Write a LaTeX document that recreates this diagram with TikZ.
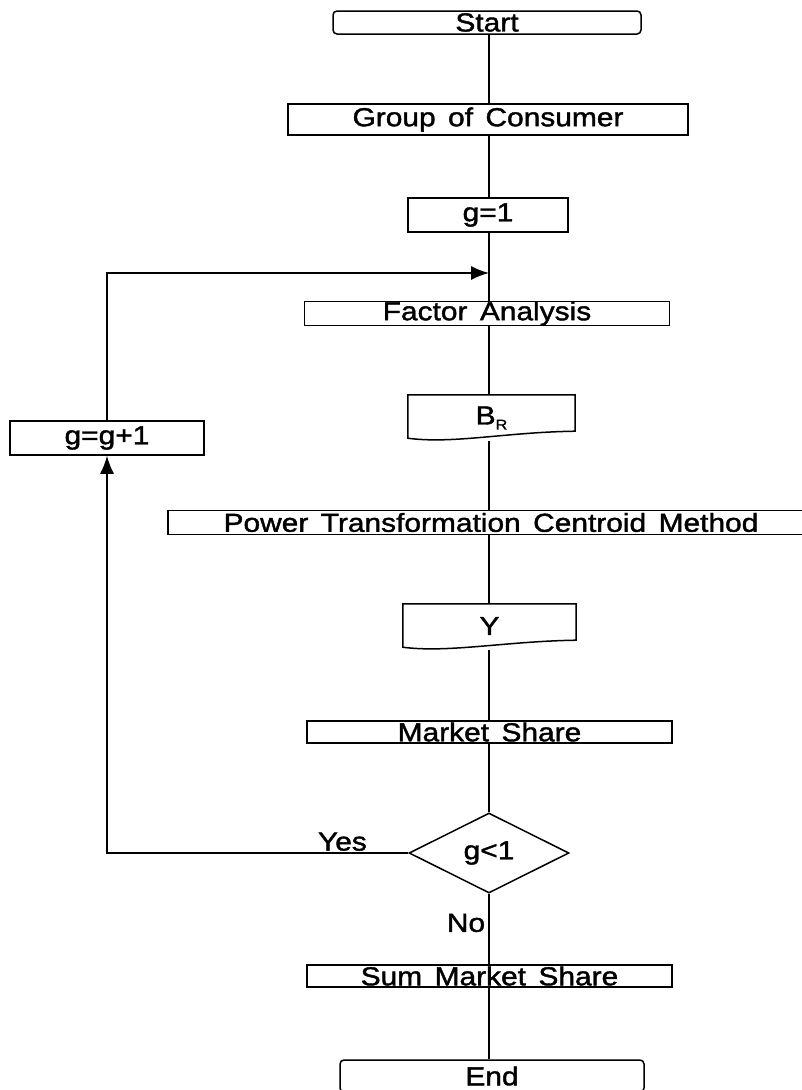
\documentclass[tikz,border=0pt]{standalone}
\usepackage{fontspec}
\setmainfont{Liberation Sans}[FakeStretch=1.15,WordSpace=1.5,FakeBold=1.5]
\usetikzlibrary{shapes.geometric,arrows.meta}
\newcommand\mydocshape[1]{\draw[flow] (#1.north west) -- ([yshift=3pt]#1.south west) .. controls +(45pt,-6pt) and +(-70pt,-1pt) .. ([yshift=10pt]#1.south east) -- (#1.north east) -- cycle;}
\begin{document}
\begin{tikzpicture}[x=1pt,y=-1pt,
  every node/.style={font=\fontsize{26}{30}\selectfont, inner sep=0pt},
  box/.style={draw, line width=1.5pt, rectangle},
  term/.style={draw, line width=1.5pt, rounded corners=4pt},
  doc/.style={rectangle, draw=none},
  dec/.style={draw, line width=1.5pt, diamond, aspect=2, minimum width=160pt, minimum height=80pt},
  flow/.style={line width=1.5pt},
  arr/.style={line width=1.5pt, -{Latex[length=18pt,width=14pt]}}]
\useasboundingbox (0,0) rectangle (801,1090);

\node[term, minimum width=308pt, minimum height=23pt] (start) at (487,22.5) {\raisebox{-2pt}{Start}};
\node[box, minimum width=400pt, minimum height=31pt] (group) at (488,119.5) {Group of Consumer};
\node[box, minimum width=160pt, minimum height=34pt] (g1) at (488,215) {g=1};
\coordinate (join) at (489,273);
\node[box, minimum width=365pt, minimum height=23pt] (fa) at (487,313.5) {Factor Analysis};
\node[doc, minimum width=167pt, minimum height=46pt] (br) at (491.5,418) {\raisebox{2pt}{B\raisebox{-5pt}{\fontsize{14}{14}\selectfont R}}};
\mydocshape{br}
\node[box, minimum width=646pt, minimum height=24pt] (ptc) at (491,522.5) {Power Transformation Centroid Method};
\node[doc, minimum width=173pt, minimum height=46pt] (y) at (489.5,627) {\raisebox{2pt}{Y}};
\mydocshape{y}
\node[box, minimum width=365pt, minimum height=22pt] (ms) at (489.5,732) {Market Share};
\node[dec] (d) at (489,853) {\raisebox{-4pt}{g<1}};
\node[box, minimum width=365pt, minimum height=22pt] (sms) at (489.5,976) {Sum Market Share};
\node[term, minimum width=304pt, minimum height=32pt] (end) at (492,1076) {End};
\node[box, minimum width=194pt, minimum height=34pt] (gg) at (107,438) {g=g+1};
\node[anchor=south east] (yes) at (367,851) {Yes};
\node (no) at (466,923) {No};

\draw[flow] (join |- start.south) -- (join |- group.north);
\draw[flow] (join |- group.south) -- (join |- g1.north);
\draw[flow] (join |- g1.south) -- (join |- fa.north);
\draw[flow] (join |- fa.south) -- (join |- br.north);
\draw[flow] (join |- br.south) -- (join |- ptc.north);
\draw[flow] (join |- ptc.south) -- (join |- y.north);
\draw[flow] (join |- y.south) -- (join |- ms.north);
\draw[flow] (d.north |- ms.south) -- (d.north);
\draw[flow] (d.south) -- (d.south |- sms.north);
\draw[flow] (d.south |- sms.south) -- (d.south |- end.north);
\draw[arr] (d.west) -| (gg.south);
\draw[arr] (gg.north) |- (join);
\end{tikzpicture}
\end{document}
